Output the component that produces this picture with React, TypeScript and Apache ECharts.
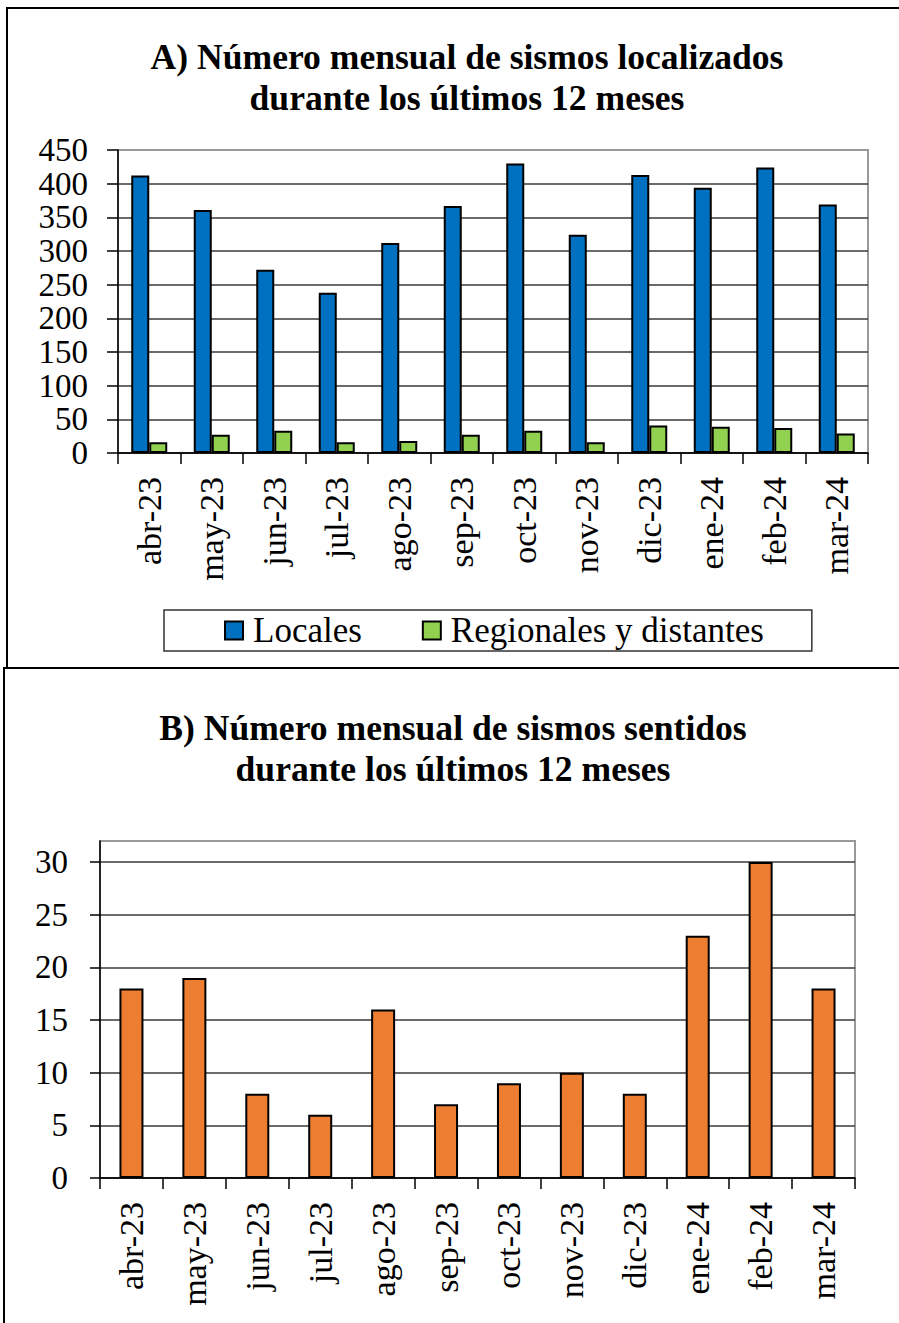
import React, { useEffect, useRef } from "react";
import * as echarts from "echarts";

const months = ["abr-23", "may-23", "jun-23", "jul-23", "ago-23", "sep-23", "oct-23", "nov-23", "dic-23", "ene-24", "feb-24", "mar-24"];
const locales = [412, 361, 272, 238, 312, 367, 430, 324, 413, 394, 424, 369];
const regionales = [16, 27, 33, 16, 18, 27, 33, 16, 41, 39, 37, 29];
const sentidos = [18, 19, 8, 6, 16, 7, 9, 10, 8, 23, 30, 18];
const yTicksA = [0, 50, 100, 150, 200, 250, 300, 350, 400, 450];
const yTicksB = [0, 5, 10, 15, 20, 25, 30];

const titleA = "A) Número mensual de sismos localizados\ndurante los últimos 12 meses";
const titleB = "B) Número mensual de sismos sentidos\ndurante los últimos 12 meses";
const legendNames = ["Locales", "Regionales y distantes"];

const FONT = "Liberation Serif";

export default function App() {
  const ref = useRef<HTMLDivElement>(null);
  useEffect(() => {
    if (!ref.current) return;
    const chart = echarts.init(ref.current, null, { renderer: "svg" });
    const axisLabel = { fontFamily: FONT, fontSize: 34, color: "#000" };
    const catAxis = (gridIndex: number) => ({
      type: "category",
      gridIndex,
      data: months,
      axisLine: { show: true, lineStyle: { color: "#000", width: 1.5 } },
      axisTick: { show: true, length: 11, lineStyle: { color: "#000", width: 1.5 } },
      axisLabel: { ...axisLabel, rotate: 90, margin: 24, interval: 0 },
    });
    const option: any = {
      animation: false,
      backgroundColor: "#fff",
      grid: [
        { left: 118, top: 150, width: 750, height: 303, show: true, borderColor: "#999", borderWidth: 2, backgroundColor: "transparent" },
        { left: 100, top: 841, width: 755, height: 337, show: true, borderColor: "#999", borderWidth: 2, backgroundColor: "transparent" },
      ],
      xAxis: [catAxis(0), catAxis(1)],
      yAxis: [
        {
          type: "value",
          gridIndex: 0,
          min: yTicksA[0],
          max: yTicksA[yTicksA.length - 1],
          interval: 50,
          axisLine: { show: true, lineStyle: { color: "#000", width: 1.5 } },
          axisTick: { show: true, length: 11, lineStyle: { color: "#000", width: 1.5 } },
          axisLabel: { ...axisLabel, fontSize: 33, lineHeight: 30, margin: 30, showMinLabel: true, showMaxLabel: true },
          splitLine: { show: true, showMaxLine: false, lineStyle: { color: "#3a3a3a", width: 1.5 } },
        },
        {
          type: "value",
          gridIndex: 1,
          min: 0,
          max: 32,
          interval: 5,
          axisLine: { show: true, lineStyle: { color: "#000", width: 1.5 } },
          axisTick: { show: true, length: 10, customValues: yTicksB, lineStyle: { color: "#000", width: 1.5 } },
          axisLabel: { ...axisLabel, fontSize: 33, margin: 32, customValues: yTicksB },
          splitLine: { show: true, lineStyle: { color: "#3a3a3a", width: 1.5 } },
        },
      ],
      legend: {
        data: legendNames,
        left: 164,
        top: 610,
        orient: "horizontal",
        itemWidth: 18,
        itemHeight: 18,
        itemGap: 60,
        padding: [3, 48, 3, 60],
        borderColor: "#333",
        borderWidth: 1.5,
        icon: "rect",
        itemStyle: { borderColor: "#000", borderWidth: 2 },
        textStyle: { fontFamily: FONT, fontSize: 35, color: "#000", lineHeight: 34, padding: [0, 0, 0, 5] },
      },
      graphic: [
        { type: "rect", shape: { x: 7, y: 8, width: 900, height: 660 }, style: { fill: "none", stroke: "#000", lineWidth: 2 }, silent: true },
        { type: "rect", shape: { x: 4, y: 668, width: 900, height: 660 }, style: { fill: "none", stroke: "#000", lineWidth: 2 }, silent: true },
        {
          type: "text",
          style: { text: titleA, x: 467, y: 36, align: "center", verticalAlign: "top", fontFamily: FONT, fontSize: 35.6, fontWeight: "bold", lineHeight: 41, fill: "#000" },
        },
        {
          type: "text",
          style: { text: titleB, x: 453, y: 707, align: "center", verticalAlign: "top", fontFamily: FONT, fontSize: 35.6, fontWeight: "bold", lineHeight: 41, fill: "#000" },
        },
      ],
      series: [
        {
          name: legendNames[0],
          type: "bar",
          xAxisIndex: 0,
          yAxisIndex: 0,
          data: locales,
          barWidth: 18,
          barGap: "0%",
          itemStyle: { color: "#0070C0", borderColor: "#000", borderWidth: 2 },
        },
        {
          name: legendNames[1],
          type: "bar",
          xAxisIndex: 0,
          yAxisIndex: 0,
          data: regionales,
          barWidth: 18,
          barGap: "0%",
          itemStyle: { color: "#92D050", borderColor: "#000", borderWidth: 2 },
        },
        {
          name: "Sentidos",
          type: "bar",
          xAxisIndex: 1,
          yAxisIndex: 1,
          data: sentidos,
          barWidth: 24,
          itemStyle: { color: "#ED7D31", borderColor: "#000", borderWidth: 2 },
        },
      ],
    };
    chart.setOption(option);
    return () => chart.dispose();
  }, []);
  return <div ref={ref} style={{ position: "absolute", left: 0, top: 0, width: 899, height: 1323 }} />;
}
